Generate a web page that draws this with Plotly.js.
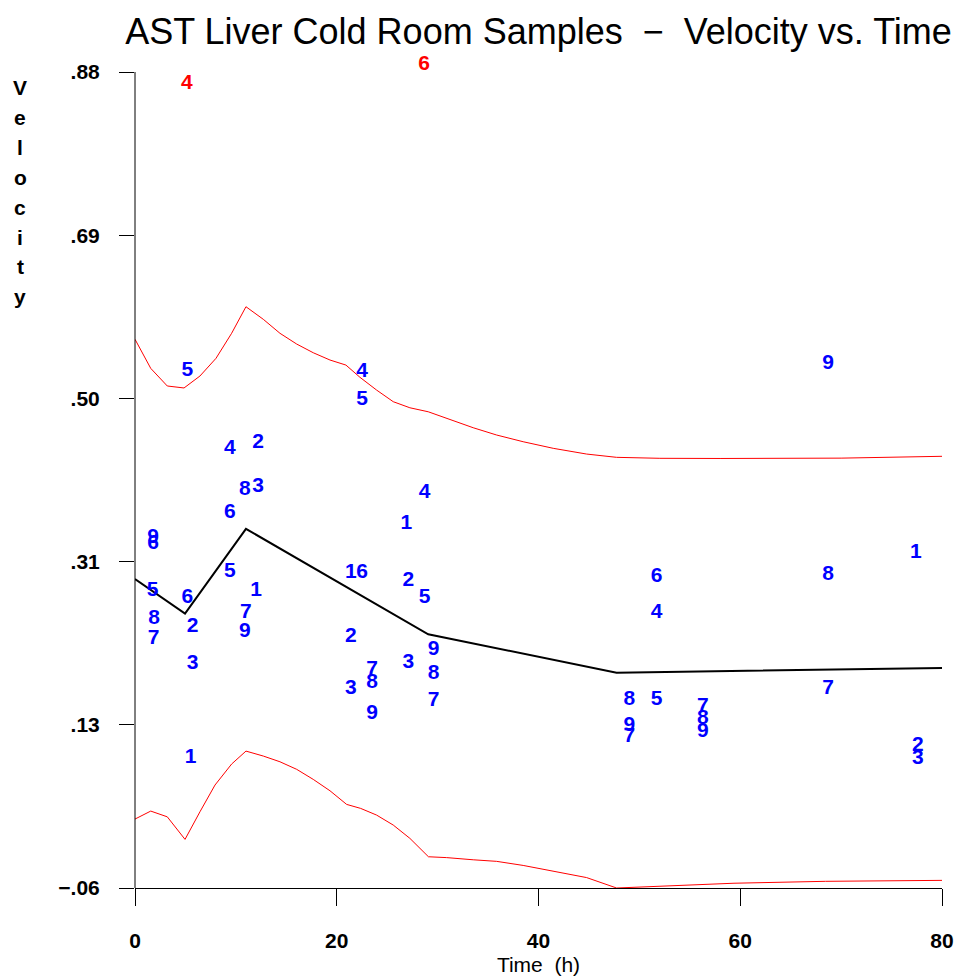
<!DOCTYPE html>
<html>
<head>
<meta charset="utf-8">
<script src="https://cdn.plot.ly/plotly-3.0.1.min.js"></script>
<style>html,body{margin:0;padding:0;background:#fff;}#chart{width:959px;height:978px;}</style>
</head>
<body>
<div id="chart"></div>
<script>
// Sample observations (time in h, velocity, sample label)
const sampleTime = [1.8,1.8,1.75,1.9,1.85, 5.2,5.2,5.7,5.7,5.5, 9.4,9.4,9.4, 10.9,11.0,10.9, 12.2,12.2,12.0,
  21.4,21.4,21.4, 22.5,22.5,22.5, 23.5,23.5,23.5, 26.9,27.1,27.1, 28.7,28.7, 29.6,29.6,29.6,
  49.0,49.0,49.0, 51.7,51.7,51.7, 56.3,56.3,56.3, 68.7,68.7,68.7, 77.4,77.6,77.6];
const sampleVelocity = [0.344,0.337,0.282,0.250,0.227, 0.536,0.274,0.241,0.198,0.090, 0.4465,0.372,0.304, 0.399,0.257,0.235, 0.453,0.402,0.283,
  0.303,0.229,0.169, 0.303,0.535,0.503, 0.191,0.176,0.141, 0.360,0.294,0.1995, 0.395,0.274, 0.214,0.1865,0.156,
  0.1565,0.1265,0.114, 0.2985,0.257,0.1565, 0.149,0.1355,0.120, 0.544,0.3005,0.170, 0.326,0.1035,0.089];
const sampleLabel = ["9","6","5","8","7", "5","6","2","3","1", "4","6","5", "8","7","9", "2","3","1",
  "1","2","3", "6","4","5", "7","8","9", "1","2","3", "4","5", "9","8","7",
  "8","9","7", "6","4","5", "7","8","9", "9","8","7", "1","2","3"];

// Outliers (red)
const outlierTime = [5.15, 28.65];
const outlierVelocity = [0.867, 0.888];
const outlierLabel = ["4", "6"];

// Mean curve
const meanTime = [0, 4.96, 11.0, 29.07, 47.74, 64.0, 80];
const meanVelocity = [0.296, 0.256, 0.3537, 0.2323, 0.188, 0.191, 0.1935];

// Upper band
const upperTime = [0, 1.56, 3.2, 4.86, 6.44, 8.03, 9.58, 11.0, 12.72, 14.37, 16.03, 17.67, 19.33, 20.91, 22.3, 23.95,
  25.6, 27.25, 29.07, 30.9, 33.53, 35.85, 38.48, 41.46, 44.77, 47.74, 52.03, 58.0, 64.0, 70.0, 80];
const upperVelocity = [0.5721, 0.5386, 0.5183, 0.516, 0.5298, 0.5502, 0.579, 0.6096, 0.5951, 0.579, 0.5666, 0.5566, 0.5482, 0.5424, 0.5283, 0.5136,
  0.5002, 0.4932, 0.4886, 0.481, 0.4702, 0.4618, 0.4541, 0.4465, 0.4399, 0.4361, 0.435, 0.4348, 0.4348, 0.4352, 0.4373];

// Lower band
const lowerTime = [0, 1.56, 3.2, 4.96, 6.44, 7.93, 9.58, 11.0, 12.72, 14.37, 16.03, 17.67, 19.33, 20.98, 22.37, 23.95,
  25.6, 27.25, 29.09, 30.9, 33.53, 35.85, 38.48, 41.46, 44.77, 47.74, 52.03, 59.38, 68.46, 80];
const lowerVelocity = [0.0194, 0.0286, 0.022, -0.004, 0.0278, 0.0586, 0.0828, 0.0977, 0.092, 0.0854, 0.0767, 0.0651, 0.052, 0.0363, 0.0317, 0.024,
  0.0125, -0.0028, -0.024, -0.025, -0.0275, -0.0293, -0.034, -0.0405, -0.048, -0.06, -0.058, -0.0545, -0.0523, -0.0512];

const xTickVals = [0, 20, 40, 60, 80];
const yTickVals = [-0.06, 0.128, 0.316, 0.504, 0.692, 0.88];
const yTickText = ["\u2212.06", ".13", ".31", ".50", ".69", ".88"];
const yAxisMin = -0.06, yAxisMax = 0.88;   // drawn extent of the y axis line
const yViewMax = 0.89037;                  // a little headroom so the top outlier stays visible

const FONT = "'Liberation Sans', Arial, Helvetica, sans-serif";

const traces = [
  {x: upperTime, y: upperVelocity, mode: 'lines', line: {color: '#ff0000', width: 1}, hoverinfo: 'skip'},
  {x: lowerTime, y: lowerVelocity, mode: 'lines', line: {color: '#ff0000', width: 1}, hoverinfo: 'skip', cliponaxis: false},
  {x: meanTime, y: meanVelocity, mode: 'lines', line: {color: '#000000', width: 2}, hoverinfo: 'skip'},
  {x: sampleTime, y: sampleVelocity, text: sampleLabel, mode: 'text', textposition: 'middle center',
   textfont: {family: FONT, size: 21, color: '#0000ff', weight: 'bold'}, cliponaxis: false},
  {x: outlierTime, y: outlierVelocity, text: outlierLabel, mode: 'text', textposition: 'middle center',
   textfont: {family: FONT, size: 21, color: '#ff0000', weight: 'bold'}, cliponaxis: false}
];

// Vertical y-axis title, one letter per line
const yTitle = "Velocity";
const annotations = [];
for (let i = 0; i < yTitle.length; i++) {
  const py = 88 + i * 29.8;
  annotations.push({
    text: yTitle[i], xref: 'paper', yref: 'paper', x: (20 - 135) / 807, y: (888 - py) / 825,
    xanchor: 'center', yanchor: 'middle', showarrow: false,
    font: {family: FONT, size: 21, color: '#000', weight: 'bold'}
  });
}

const layout = {
  width: 959, height: 978,
  margin: {l: 135, r: 17, t: 63, b: 90, pad: 0},
  paper_bgcolor: '#ffffff', plot_bgcolor: '#ffffff',
  showlegend: false,
  font: {family: FONT, color: '#000'},
  title: {
    text: 'AST Liver Cold Room Samples  \u2212  Velocity vs. Time',
    font: {family: FONT, size: 36, color: '#000'},
    x: 0.5, xref: 'paper', xanchor: 'center',
    y: 1 - 31 / 978, yref: 'container', yanchor: 'middle'
  },
  xaxis: {
    range: [0, 80], tickvals: xTickVals, ticktext: xTickVals.map(String),
    showline: true, linecolor: '#000', linewidth: 1, mirror: false,
    ticks: 'outside', ticklen: 17, tickwidth: 1, tickcolor: '#000',
    showgrid: false, zeroline: false,
    tickfont: {family: FONT, size: 21, color: '#000', weight: 'bold'},
    ticklabelstandoff: 17,
    title: {text: 'Time  (h)', font: {family: FONT, size: 21, color: '#000'}, standoff: 6}
  },
  yaxis: {
    range: [yAxisMin, yViewMax], tickvals: yTickVals, ticktext: yTickText,
    showline: false,
    ticks: 'outside', ticklen: 15, tickwidth: 1, tickcolor: '#000',
    showgrid: false, zeroline: false,
    tickfont: {family: FONT, size: 21, color: '#000', weight: 'bold'},
    ticklabelstandoff: 15
  },
  shapes: [{
    type: 'line', xref: 'paper', x0: 0, x1: 0, yref: 'y', y0: yAxisMin, y1: yAxisMax,
    line: {color: '#000', width: 1}
  }],
  annotations: annotations
};

Plotly.newPlot('chart', traces, layout, {displayModeBar: false, staticPlot: true});
</script>
</body>
</html>
